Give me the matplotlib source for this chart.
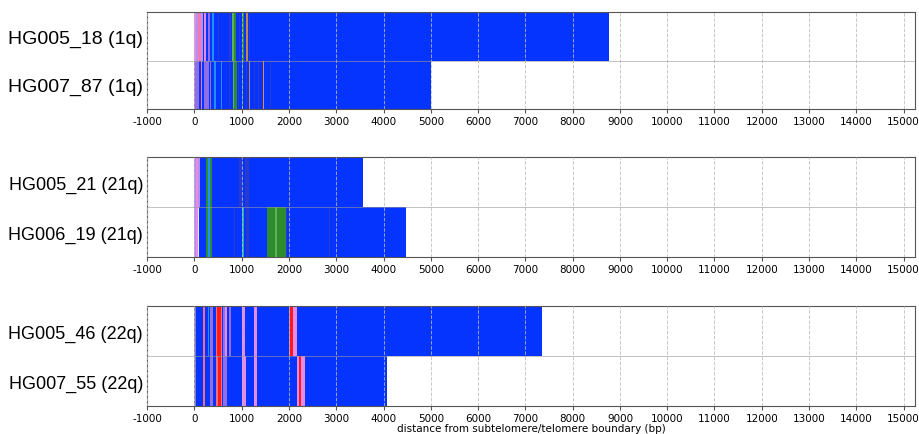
import matplotlib
matplotlib.use("Agg")
import matplotlib.pyplot as plt

# ---------------- data ----------------
xticks = list(range(-1000, 15001, 1000))
xlabel = "distance from subtelomere/telomere boundary (bp)"

panel_labels = [
    ["HG005_18 (1q)", "HG007_87 (1q)"],
    ["HG005_21 (21q)", "HG006_19 (21q)"],
    ["HG005_46 (22q)", "HG007_55 (22q)"],
]
panel_lengths = [
    [8770, 5000],
    [3560, 4470],
    [7350, 4070],
]

# segments: (start_bp, end_bp, colour key)
hg005_18 = [(0, 40, "violet"), (40, 80, "lavender"), (80, 140, "pink"),
            (140, 170, "lavender"), (200, 250, "violet"), (280, 330, "purple"),
            (380, 420, "dodger"), (500, 520, "dark"), (740, 770, "dark"),
            (800, 830, "lightgreen"), (830, 880, "green"), (940, 960, "dark"),
            (1000, 1050, "green"), (1100, 1130, "tan"), (1160, 1180, "dark")]
hg007_87 = [(0, 100, "purple"), (130, 150, "pink"), (200, 300, "purple"),
            (320, 340, "purple"), (420, 460, "dodger"), (560, 580, "dodger"),
            (740, 760, "dark"), (820, 840, "lightgreen"), (840, 900, "green"),
            (930, 950, "dark"), (1000, 1030, "green"), (1080, 1110, "dark"),
            (1160, 1180, "tan"), (1250, 1270, "dark"), (1350, 1370, "dark"),
            (1440, 1480, "orange"), (1600, 1620, "dark")]
hg005_21 = [(0, 40, "lavender"), (40, 80, "violet"), (80, 120, "lavender"),
            (250, 290, "green"), (290, 320, "dodger"), (320, 380, "green"),
            (950, 1000, "dark"), (1060, 1160, "dark")]
hg006_19 = [(0, 40, "lavender"), (40, 70, "violet"), (70, 100, "white"),
            (250, 290, "green"), (290, 320, "dodger"), (320, 380, "green"),
            (830, 850, "dark"), (1010, 1040, "seagreen"), (1080, 1160, "dark"),
            (1530, 1700, "green"), (1700, 1740, "lightgreen"), (1740, 1930, "green"),
            (1930, 1950, "dark"), (2850, 2870, "dark")]
hg005_46 = [(0, 30, "grey"), (180, 230, "salmon"), (280, 300, "dodger"),
            (330, 390, "purple"), (450, 480, "salmon"), (480, 560, "red"),
            (560, 590, "salmon"), (600, 640, "purple"), (640, 690, "violet"),
            (720, 780, "purple"), (1000, 1060, "violet"), (1250, 1330, "violet"),
            (2000, 2030, "salmon"), (2030, 2080, "red"), (2080, 2160, "violet")]
hg007_55 = [(0, 30, "grey"), (180, 220, "salmon"), (330, 390, "purple"),
            (460, 490, "salmon"), (490, 560, "red"), (560, 590, "salmon"),
            (600, 640, "purple"), (640, 690, "purple"), (1000, 1080, "violet"),
            (1250, 1330, "violet"), (2160, 2210, "violet"), (2210, 2260, "red"),
            (2260, 2330, "violet")]
panel_segments = [[hg005_18, hg007_87], [hg005_21, hg006_19], [hg005_46, hg007_55]]

# ---------------- styles ----------------
base_blue = "#0533ff"
colour_map = {
    "violet": "#e68ae8", "lavender": "#b98ef0", "pink": "#f27ab0",
    "purple": "#8f6ee6", "dodger": "#1e90ff", "dark": "#2a3acc",
    "green": "#2e8b2e", "lightgreen": "#5cb35c", "seagreen": "#20b2aa",
    "tan": "#c08850", "orange": "#ff8c1a", "white": "#e8e8ff",
    "salmon": "#f07080", "red": "#ff1a1a", "grey": "#7f7fbf",
}
label_sizes = [14, 13, 13]

fig = plt.figure(figsize=(9.2, 4.35), dpi=100)
left, width = 0.160, 0.835
axes_rect = [(left, 0.747, width, 0.223),
             (left, 0.407, width, 0.230),
             (left, 0.064, width, 0.230)]

for p, rect in enumerate(axes_rect):
    ax = fig.add_axes(rect)
    labels = panel_labels[p]
    lengths = panel_lengths[p]
    segs = panel_segments[p]
    n = len(labels)
    ypos = [n - 1 - i for i in range(n)]
    ax.barh(ypos, lengths, left=0, height=1.0, color=base_blue, zorder=1)
    for i, read in enumerate(segs):
        for s, e, c in read:
            ax.barh(ypos[i], e - s, left=s, height=1.0, color=colour_map[c],
                    edgecolor="none", zorder=2)
    ax.set_xlim(-1000, 15250)
    ax.set_ylim(-0.5, n - 0.5)
    ax.set_yticks(ypos)
    ax.set_yticklabels(labels, fontsize=label_sizes[p], family="Liberation Sans")
    ax.tick_params(axis="y", length=0, pad=3)
    ax.set_yticks([0.5], minor=True)
    ax.tick_params(axis="y", which="minor", length=0)
    ax.grid(True, axis="y", which="minor", color="#999999", linewidth=0.6,
            alpha=0.7, zorder=3)
    ax.set_xticks(xticks)
    ax.set_xticklabels([str(t) for t in xticks], fontsize=7.5)
    ax.tick_params(axis="x", length=3, pad=2, color="#555555")
    ax.grid(True, axis="x", which="major", linestyle="--", color="#bbbbbb",
            linewidth=0.7, alpha=0.8, zorder=3)
    ax.set_axisbelow(False)
    for sp in ax.spines.values():
        sp.set_color("#555555")
    if p == 2:
        ax.set_xlabel(xlabel, fontsize=7.5, labelpad=0)

fig.savefig("out.png", dpi=100)
